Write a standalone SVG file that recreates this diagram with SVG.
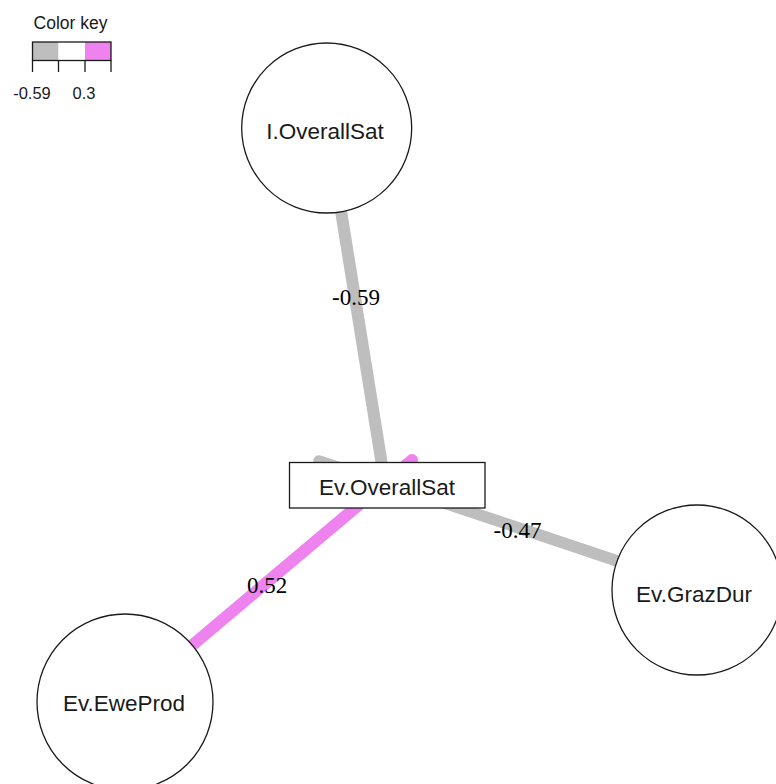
<svg xmlns="http://www.w3.org/2000/svg" width="776" height="784" viewBox="0 0 776 784">
<style>
.node{fill:#fff;stroke:#1a1a1a;stroke-width:1.3}
.nlab{font-family:"Liberation Sans",Arial,sans-serif;font-size:22.5px;fill:#1a1a1a;text-anchor:middle}
.elab{font-family:"Liberation Serif","Times New Roman",serif;font-size:23px;fill:#000;text-anchor:middle}
.edge{fill:none;stroke-linecap:round}
.neg{stroke:#BEBEBE}
.pos{stroke:#EE82EE}
.key{font-family:"Liberation Sans",Arial,sans-serif;fill:#1a1a1a}
</style>
<rect x="0" y="0" width="776" height="784" fill="#fff"/>
<g id="legend">
<text class="key" x="70.5" y="29" font-size="17.5" text-anchor="middle">Color key</text>
<rect x="32.5" y="42" width="26" height="18.5" fill="#BEBEBE"/>
<rect x="58.5" y="42" width="26.5" height="18.5" fill="#fff"/>
<rect x="85" y="42" width="26" height="18.5" fill="#EE82EE"/>
<rect x="32.5" y="42" width="78.5" height="18.5" fill="none" stroke="#1a1a1a" stroke-width="1.3"/>
<g stroke="#1a1a1a" stroke-width="1.3">
<line x1="32.5" y1="60.5" x2="32.5" y2="72"/>
<line x1="58.5" y1="60.5" x2="58.5" y2="72"/>
<line x1="85" y1="60.5" x2="85" y2="72"/>
<line x1="111" y1="60.5" x2="111" y2="72"/>
</g>
<text class="key" x="32" y="98.5" font-size="16.5" text-anchor="middle">-0.59</text>
<text class="key" x="84" y="98.5" font-size="16.5" text-anchor="middle">0.3</text>
</g>
<g id="edges">
<line class="edge neg" x1="336" y1="180" x2="381.5" y2="462" stroke-width="12"/>
<line class="edge pos" x1="170" y1="664" x2="412" y2="460" stroke-width="12"/>
<line class="edge neg" x1="650" y1="572" x2="319" y2="461" stroke-width="11.5"/>
<text class="elab" x="356" y="305">-0.59</text>
<text class="elab" x="267" y="593">0.52</text>
<text class="elab" x="517.5" y="538">-0.47</text>
</g>
<g id="node-IOverallSat">
<circle class="node" cx="326.7" cy="128" r="85"/>
<text class="nlab" x="325" y="139">I.OverallSat</text>
</g>
<g id="node-EvOverallSat">
<rect class="node" x="289.5" y="462.5" width="195.5" height="45.5"/>
<text class="nlab" x="387" y="495">Ev.OverallSat</text>
</g>
<g id="node-EvGrazDur">
<circle class="node" cx="697" cy="590" r="85"/>
<text class="nlab" x="694" y="602">Ev.GrazDur</text>
</g>
<g id="node-EvEweProd">
<circle class="node" cx="125" cy="702" r="88"/>
<text class="nlab" x="124" y="711">Ev.EweProd</text>
</g>
</svg>
